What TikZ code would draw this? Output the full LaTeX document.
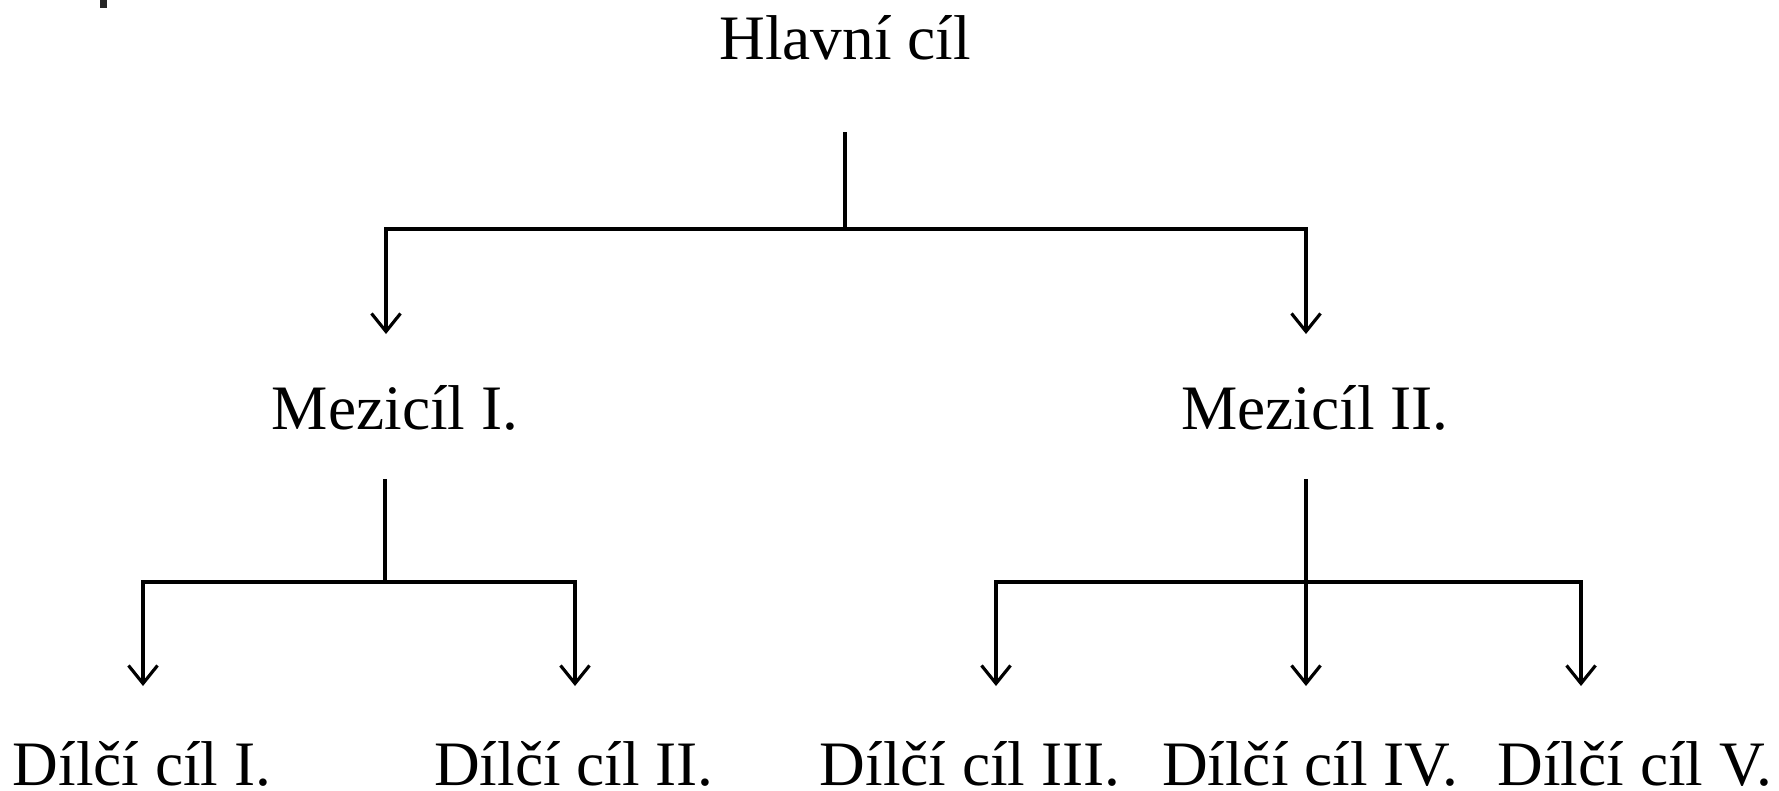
\documentclass[tikz,border=0pt]{standalone}
\usepackage{fontspec}
\setmainfont{Liberation Serif}
\usetikzlibrary{arrows.meta}
\tikzset{
  goal/.style={anchor=base, inner sep=0pt, font=\fontsize{18}{20}\selectfont},
  link/.style={line width=0.9pt},
  down/.style={link, -{Straight Barb[length=1.8mm, width=2.9mm, line width=0.9pt]}}
}
\begin{document}
\begin{tikzpicture}[x=0.01cm, y=-0.01cm]
    \useasboundingbox (0,0) rectangle (1779,790);
    \fill[black!85] (100,0) rectangle (107,8);

    \node[goal] (hlavni) at (845,59) {Hlavní cíl};
    \node[goal] (mezi1) at (395,429) {Mezicíl I.};
    \node[goal] (mezi2) at (1315,429) {Mezicíl II.};
    \node[goal] (dilci1) at (142,785) {Dílčí cíl I.};
    \node[goal] (dilci2) at (574,785) {Dílčí cíl II.};
    \node[goal] (dilci3) at (970,785) {Dílčí cíl III.};
    \node[goal] (dilci4) at (1310,785) {Dílčí cíl IV.};
    \node[goal] (dilci5) at (1635,785) {Dílčí cíl V.};

    \coordinate (hlavniTop) at (845,132);
    \coordinate (hlavniJoin) at (845,229);
    \coordinate (mezi1Tip) at (386,334);
    \coordinate (mezi2Tip) at (1306,334);
    \draw[link] (hlavniTop) to (hlavniJoin);
    \draw[down] (hlavniJoin) -| (mezi1Tip);
    \draw[down] (hlavniJoin) -| (mezi2Tip);

    \coordinate (mezi1Top) at (385,479);
    \coordinate (mezi1Join) at (385,582);
    \coordinate (dilci1Tip) at (143,686);
    \coordinate (dilci2Tip) at (575,686);
    \draw[link] (mezi1Top) to (mezi1Join);
    \draw[down] (mezi1Join) -| (dilci1Tip);
    \draw[down] (mezi1Join) -| (dilci2Tip);

    \coordinate (mezi2Top) at (1306,479);
    \coordinate (mezi2Join) at (1306,582);
    \coordinate (dilci3Tip) at (996,686);
    \coordinate (dilci4Tip) at (1306,686);
    \coordinate (dilci5Tip) at (1581,686);
    \draw[down] (mezi2Top) to (dilci4Tip);
    \draw[down] (mezi2Join) -| (dilci3Tip);
    \draw[down] (mezi2Join) -| (dilci5Tip);
\end{tikzpicture}
\end{document}
